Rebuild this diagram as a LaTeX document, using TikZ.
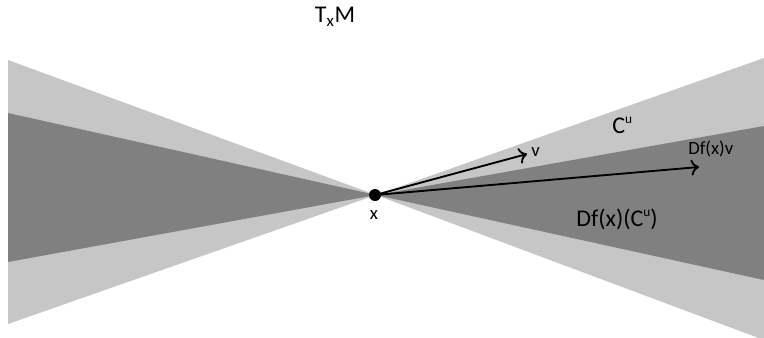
\documentclass[tikz,border=0pt]{standalone}
\usepackage{fontspec}
\setmainfont{Carlito}
\usetikzlibrary{arrows.meta}
\definecolor{lightcone}{HTML}{C6C6C6}
\definecolor{darkcone}{HTML}{808080}
\newcommand{\supu}{\raisebox{0.42em}{\fontsize{10}{10}\selectfont u}}
\tikzset{
  vecarrow/.style={line width=1.4pt,-{To[length=6pt,width=12pt,line width=1.4pt]}},
  biglabel/.style={font=\fontsize{18}{21}\selectfont,inner sep=0pt},
  smalllabel/.style={font=\fontsize{14}{16}\selectfont,inner sep=0pt},
}
\begin{document}
\begin{tikzpicture}[x=0.75pt,y=-0.75pt]
\useasboundingbox (0,0) rectangle (764,337);
\clip (0,0) rectangle (764,337);
% cones
\fill[lightcone] (8,60) -- (376,195) -- (8,324) -- cycle;
\fill[lightcone] (376,195) -- (764,58) -- (764,340) -- cycle;
\fill[darkcone] (8,113) -- (376,195) -- (8,262) -- cycle;
\fill[darkcone] (376,195) -- (764,126) -- (764,280) -- cycle;
% apex
\node[circle,fill=black,inner sep=0pt,minimum size=9pt] (x) at (375,195) {};
\coordinate (vend) at (527,154);
\coordinate (dfvend) at (699,167);
\draw[vecarrow] (x.center) -- (vend);
\draw[vecarrow] (x.center) -- (dfvend);
% labels
\node[smalllabel] (xl) at (374,215) {x};
\node[smalllabel,anchor=west] (vl) at (531,152) {v};
\node[smalllabel,anchor=west] (dfvl) at (688,149) {Df(x)v};
\node[biglabel] (txm) at (335,17) {T\textsubscript{x}M};
\node[biglabel,anchor=west] (cu) at (612,125) {C\supu};
\node[biglabel,anchor=west] (dfcu) at (576,219) {Df(x)(C\supu)};
\end{tikzpicture}
\end{document}
